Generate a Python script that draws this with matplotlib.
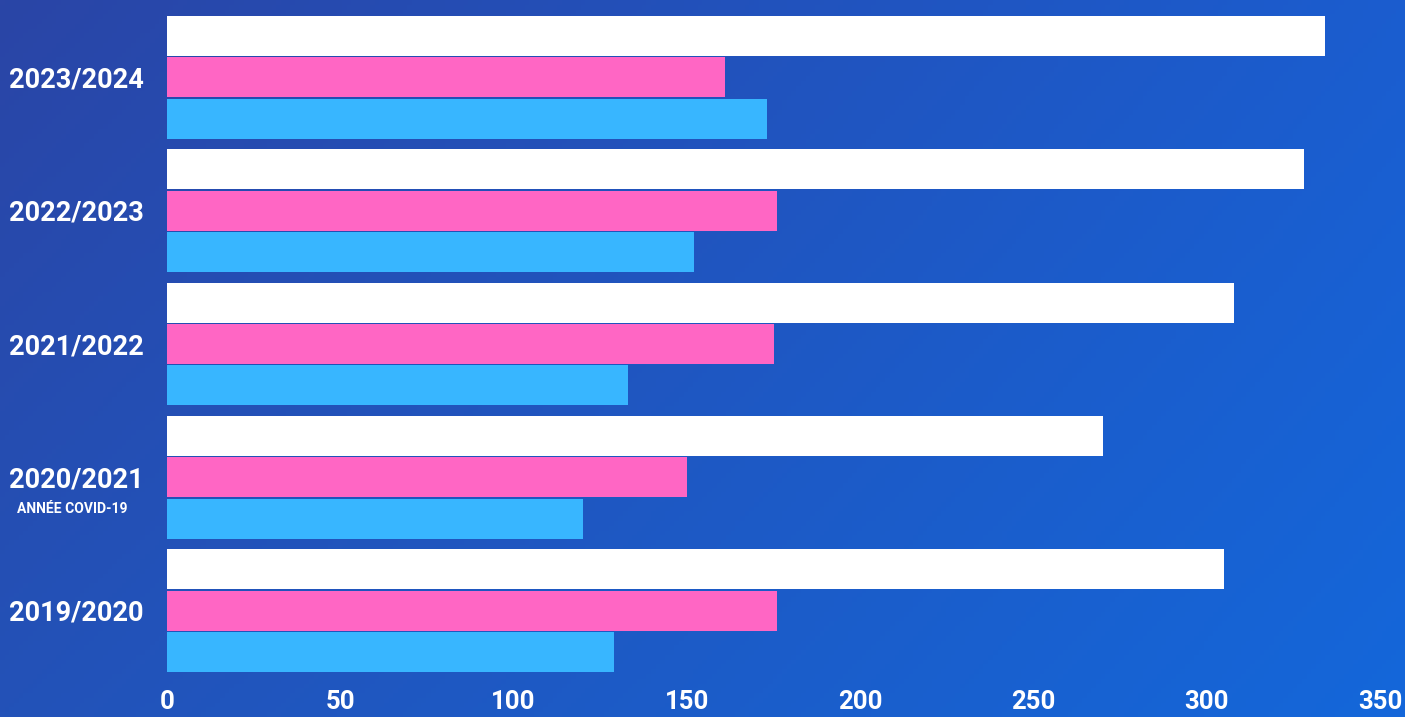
import numpy as np
import matplotlib
matplotlib.use('Agg')
import matplotlib.pyplot as plt

# school years (bottom to top) and enrolment counts
seasons = ['2019/2020', '2020/2021', '2021/2022', '2022/2023', '2023/2024']
total = [305, 270, 308, 328, 334]
girls = [176, 150, 175, 176, 161]
boys = [129, 120, 133, 152, 173]
ticks = [0, 50, 100, 150, 200, 250, 300, 350]

white = '#ffffff'
pink = '#ff66c4'
cyan = '#38b6ff'

font = {'family': ['Roboto', 'DejaVu Sans'], 'weight': 'bold'}

fig = plt.figure(figsize=(14.05, 7.17), dpi=100)

# background gradient (bilinear between four corner colours)
bg = fig.add_axes([0, 0, 1, 1], zorder=0)
tl = np.array([0x2a, 0x45, 0xa6]) / 255
tr = np.array([0x1b, 0x5d, 0xcf]) / 255
bl = np.array([0x23, 0x52, 0xb8]) / 255
br = np.array([0x14, 0x67, 0xda]) / 255
u = np.linspace(0, 1, 300)[None, :, None]
v = np.linspace(0, 1, 150)[:, None, None]
img = (1 - v) * ((1 - u) * tl + u * tr) + v * ((1 - u) * bl + u * br)
bg.imshow(img, aspect='auto', extent=[0, 1, 0, 1], origin='upper')
bg.axis('off')

ax = fig.add_axes([167 / 1405, 45 / 717, (1380 - 167) / 1405, 656 / 717], zorder=1)
ax.patch.set_alpha(0)

y = np.arange(len(seasons))
slot = 0.31
h = 0.30
ax.barh(y + slot, total, height=h, color=white, edgecolor='none')
ax.barh(y, girls, height=h, color=pink, edgecolor='none')
ax.barh(y - slot, boys, height=h, color=cyan, edgecolor='none')

ax.set_xlim(0, 350)
ax.set_ylim(-slot - h / 2, len(seasons) - 1 + slot + h / 2)
ax.set_xticks(ticks)
ax.set_xticklabels([str(t) for t in ticks], color='white', fontsize=18.5, **font)
ax.tick_params(axis='x', length=0, pad=13)
ax.set_yticks([])
for s in ax.spines.values():
    s.set_visible(False)

# year labels centred in the left margin
trans = matplotlib.transforms.blended_transform_factory(fig.transFigure, ax.transData)
for yi, name in zip(y, seasons):
    ax.text(76 / 1405, yi - 0.02, name, transform=trans, ha='center', va='center',
            color='white', fontsize=19.5, **font)
ax.text(72 / 1405, 1 - 0.235, 'ANNÉE COVID-19', transform=trans, ha='center',
        va='center', color='white', fontsize=10, **font)

fig.savefig('out.png', dpi=100)
